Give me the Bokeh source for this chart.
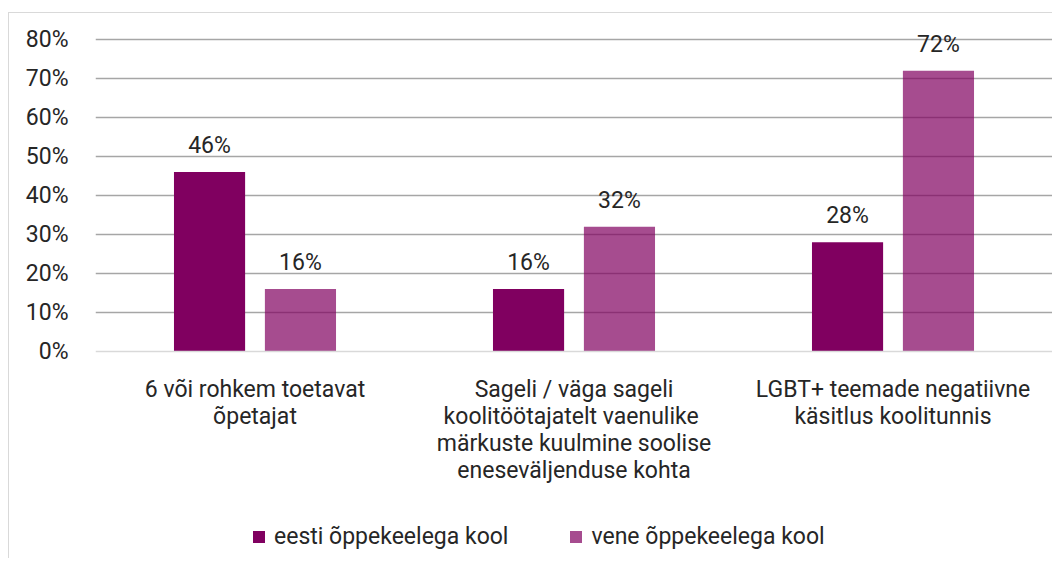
from bokeh.plotting import figure
from bokeh.models import ColumnDataSource, FactorRange, FixedTicker, PrintfTickFormatter, Legend, LegendItem, LabelSet, Span
from bokeh.transform import dodge
from bokeh.core.properties import value
from bokeh.embed import file_html
from bokeh.resources import INLINE

categories = [
    "6 või rohkem toetavat\nõpetajat",
    "Sageli / väga sageli\nkoolitöötajatelt  vaenulike\nmärkuste kuulmine soolise\neneseväljenduse kohta",
    "LGBT+ teemade negatiivne\nkäsitlus koolitunnis",
]
series_names = ["eesti õppekeelega kool", "vene õppekeelega kool"]
eesti = [46, 16, 28]
vene = [16, 32, 72]
y_ticks = [0, 10, 20, 30, 40, 50, 60, 70, 80]

FONT = "Roboto"
FS = "23px"
TXT = "#262626"
DARK = "#800060"
PX_PER_UNIT = 3.9  # frame scale: 312px for 80 units

src = ColumnDataSource(dict(
    cat=categories,
    eesti=eesti,
    vene=vene,
    eesti_lbl=[f"{v}%" for v in eesti],
    vene_lbl=[f"{v}%" for v in vene],
))

p = figure(
    x_range=FactorRange(*categories, range_padding=0),
    y_range=(-205 / PX_PER_UNIT, 80 + 25 / PX_PER_UNIT),
    width=1044, height=546,
    output_backend="svg", toolbar_location=None,
    min_border_left=86, min_border_right=1, min_border_top=1, min_border_bottom=3,
    background_fill_color="white", border_fill_color="white",
)
p.margin = (12, 0, 0, 8)
p.styles = {"border-top": "1px solid #d9d9d9", "border-left": "1px solid #d9d9d9"}
p.outline_line_color = None

r1 = p.vbar(x=dodge("cat", -0.1425, range=p.x_range), top="eesti", width=0.223,
            source=src, fill_color=DARK, line_color=None)
r2 = p.vbar(x=dodge("cat", 0.1425, range=p.x_range), top="vene", width=0.223,
            source=src, fill_color=DARK, fill_alpha=0.7, line_color=None)

for col, lbl, off in [("eesti", "eesti_lbl", -0.1425), ("vene", "vene_lbl", 0.1425)]:
    ls = LabelSet(x=dodge("cat", off, range=p.x_range), y=col, text=lbl, source=src,
                  y_offset=13, text_align="center", text_baseline="bottom",
                  text_font=value(FONT), text_font_size=FS, text_color=TXT)
    p.add_layout(ls)

# baseline (category axis line)
p.add_layout(Span(location=0, dimension="width", line_color="#d9d9d9", line_width=1.5))

# category labels below the baseline
p.text(x="cat", y=-24 / PX_PER_UNIT, text="cat", source=src,
       text_align="center", text_baseline="top",
       text_font=value(FONT), text_font_size=FS, text_color=TXT, text_line_height=1.0)

p.xaxis.visible = False

p.yaxis.ticker = FixedTicker(ticks=y_ticks)
p.yaxis.formatter = PrintfTickFormatter(format="%d%%")
p.yaxis.axis_line_color = None
p.yaxis.major_tick_line_color = None
p.yaxis.minor_tick_line_color = None
p.yaxis.major_label_standoff = 21
p.yaxis.major_label_text_font = FONT
p.yaxis.major_label_text_font_size = FS
p.yaxis.major_label_text_color = TXT

p.xgrid.grid_line_color = None
p.ygrid.ticker = FixedTicker(ticks=y_ticks[1:])
p.ygrid.grid_line_color = "#a6a6a6"
p.ygrid.grid_line_width = 1.5

legend = Legend(
    items=[LegendItem(label=series_names[0], renderers=[r1]),
           LegendItem(label=series_names[1], renderers=[r2])],
    orientation="horizontal", location=(156, 6),
    glyph_width=15, glyph_height=15, label_standoff=8, spacing=60,
    padding=0, margin=0, border_line_color=None, background_fill_alpha=0,
    label_text_font=FONT, label_text_font_size=FS, label_text_color=TXT,
)
p.add_layout(legend, "center")

open("out.html", "w").write(file_html(p, INLINE))
